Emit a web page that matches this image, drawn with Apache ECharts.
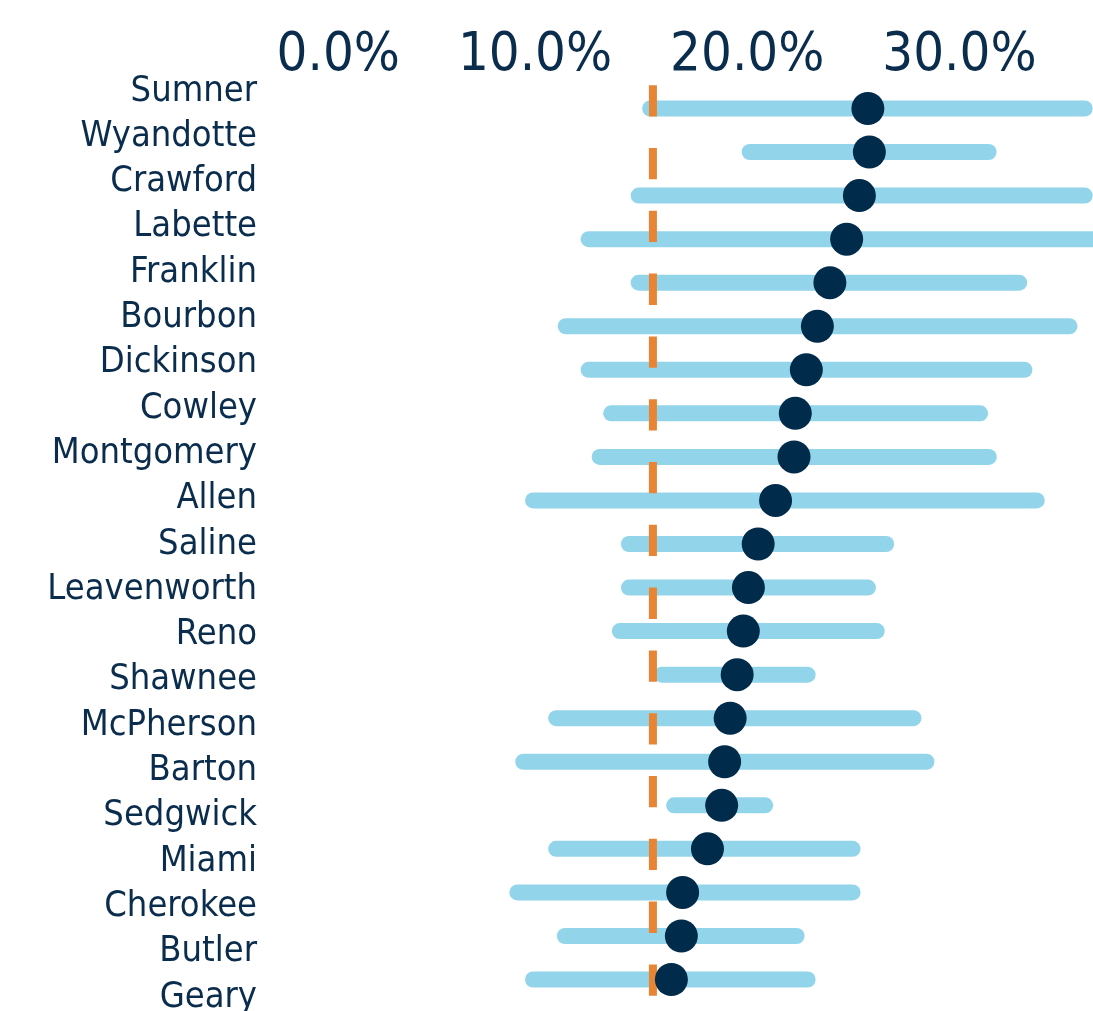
<!DOCTYPE html>
<html>
<head>
<meta charset="utf-8">
<script src="https://cdn.jsdelivr.net/npm/echarts@6/dist/echarts.min.js"></script>
<style>
  html, body { margin: 0; padding: 0; background: #fff; }
  #main { width: 1093px; height: 1011px; }
</style>
</head>
<body>
<div id="main"></div>
<script>
// county rows, top to bottom
const counties = ['Sumner', 'Wyandotte', 'Crawford', 'Labette', 'Franklin', 'Bourbon', 'Dickinson',
  'Cowley', 'Montgomery', 'Allen', 'Saline', 'Leavenworth', 'Reno', 'Shawnee', 'McPherson',
  'Barton', 'Sedgwick', 'Miami', 'Cherokee', 'Butler', 'Geary']

// estimate (%)
const pointVals = [25.49, 25.56, 25.09, 24.49, 23.70, 23.11, 22.59, 22.07, 22.01, 21.14, 20.32,
  19.86, 19.62, 19.33, 19.00, 18.74, 18.60, 17.93, 16.76, 16.70, 16.23]
// interval low / high (%)
const lowVals = [15.23, 19.92, 14.69, 12.33, 14.69, 11.25, 12.33, 13.39, 12.85, 9.71, 14.23,
  14.23, 13.80, 15.78, 10.80, 9.25, 16.36, 10.80, 8.97, 11.21, 9.71]
const highVals = [35.71, 31.18, 35.71, 38.00, 32.62, 34.99, 32.87, 30.78, 31.19, 33.45, 26.35,
  25.49, 25.91, 22.65, 27.64, 28.25, 20.65, 24.77, 24.77, 22.13, 22.65]

// state reference line (%)
const refValue = 15.36

const textColor = '#0b2d4d'
const fontFamily = '"DejaVu Sans Condensed", "DejaVu Sans", sans-serif'

let myChart = echarts.init(document.getElementById('main'))

let option = {
  animation: false,
  backgroundColor: '#ffffff',
  grid: [
    // data area
    { left: 327, right: 0, top: 86.7, height: 914.6, outerBoundsMode: 'none' },
    // county names (slightly different spacing than the marks)
    { left: 265, width: 10, top: 68.5, height: 951.3, outerBoundsMode: 'none' }
  ],
  xAxis: [
    {
      gridIndex: 0,
      type: 'value',
      position: 'top',
      min: 0,
      max: 36.1,
      interval: 10,
      axisLine: { show: false },
      axisTick: { show: false },
      splitLine: { show: false },
      axisLabel: {
        margin: 4,
        showMaxLabel: false,
        formatter: function (v) {
          return '{a|' + v.toFixed(1) + '%}'
        },
        rich: {
          a: {
            width: 146,
            align: 'right',
            fontSize: 54,
            fontFamily: fontFamily,
            color: textColor
          }
        }
      }
    },
    { gridIndex: 1, type: 'value', show: false }
  ],
  yAxis: [
    {
      gridIndex: 0,
      type: 'category',
      data: counties,
      inverse: true,
      show: false
    },
    {
      gridIndex: 1,
      type: 'category',
      data: counties,
      inverse: true,
      axisLine: { show: false },
      axisTick: { show: false },
      axisLabel: {
        interval: 0,
        margin: 8,
        fontSize: 36,
        fontFamily: fontFamily,
        color: textColor
      }
    }
  ],
  series: [
    // light blue interval bars
    {
      type: 'custom',
      xAxisIndex: 0,
      yAxisIndex: 0,
      z: 1,
      encode: { x: [1, 2], y: 0 },
      data: counties.map((c, i) => [i, lowVals[i], highVals[i]]),
      renderItem: function (params, api) {
        let row = api.value(0)
        let s = api.coord([api.value(1), row])
        let e = api.coord([api.value(2), row])
        return {
          type: 'line',
          shape: { x1: s[0], y1: s[1], x2: e[0], y2: e[1] },
          style: { stroke: '#92d5ea', lineWidth: 16, lineCap: 'round' }
        }
      }
    },
    // dashed orange reference line
    {
      type: 'custom',
      xAxisIndex: 0,
      yAxisIndex: 0,
      z: 2,
      encode: { x: 0 },
      data: [[refValue]],
      renderItem: function (params, api) {
        let x = api.coord([api.value(0), 0])[0]
        let cs = params.coordSys
        return {
          type: 'line',
          shape: { x1: x, y1: cs.y - 1.5, x2: x, y2: cs.y + cs.height },
          style: { stroke: '#e88534', lineWidth: 8, lineDash: [31.3, 31.5], lineCap: 'butt' }
        }
      }
    },
    // navy estimate dots
    {
      type: 'scatter',
      xAxisIndex: 0,
      yAxisIndex: 0,
      z: 3,
      symbolSize: 33,
      itemStyle: { color: '#002b4a', opacity: 1 },
      data: counties.map((c, i) => [pointVals[i], i])
    }
  ]
}

myChart.setOption(option)
window.onresize = myChart.resize
</script>
</body>
</html>
